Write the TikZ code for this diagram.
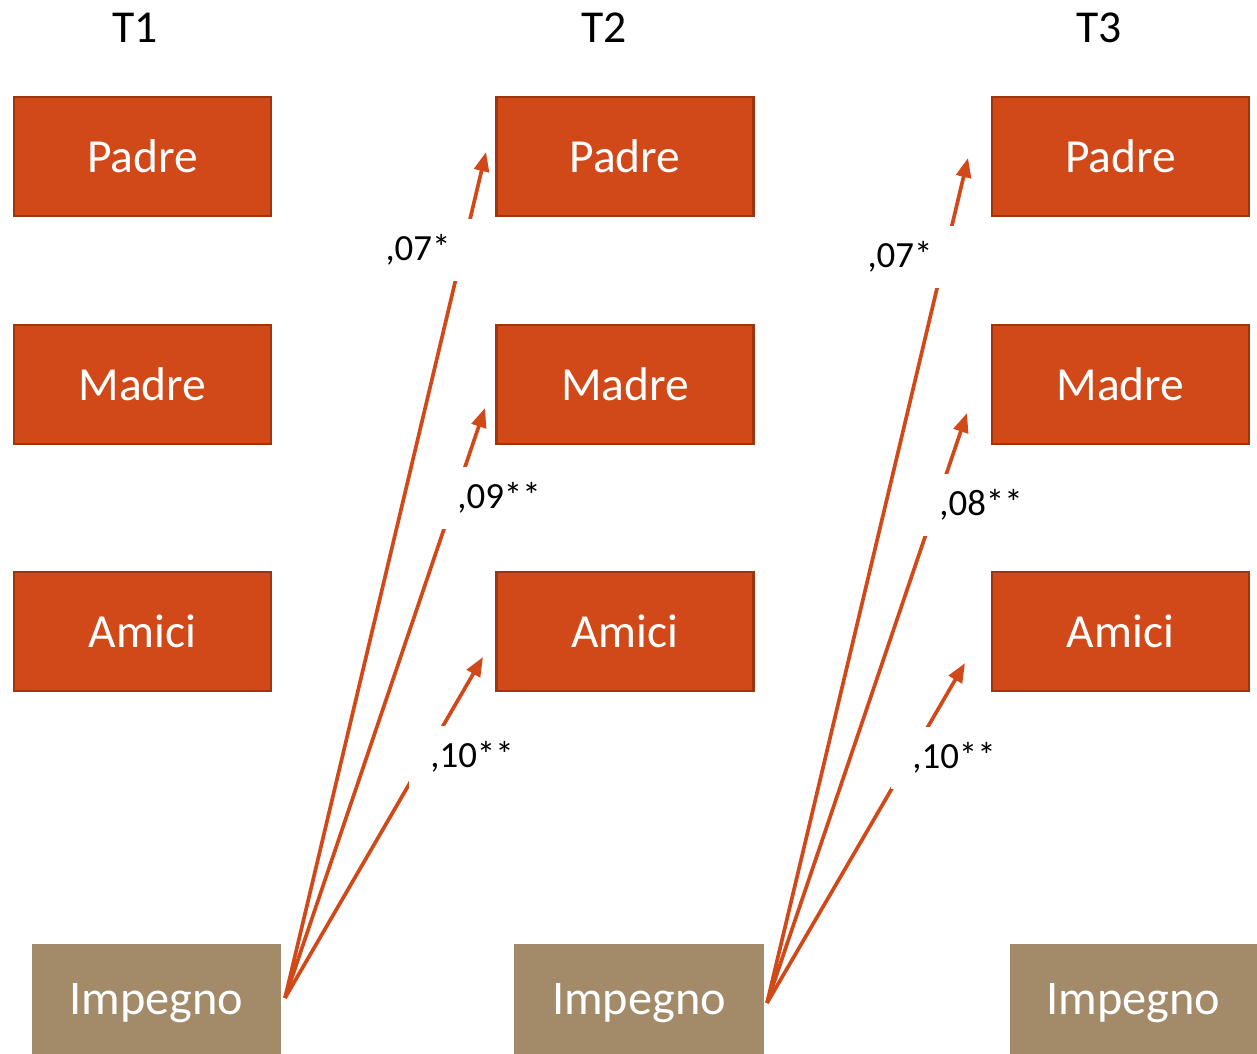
\documentclass[tikz,border=0pt]{standalone}
\usepackage{fontspec}
\setmainfont{Carlito}
\usetikzlibrary{arrows.meta}
\definecolor{boxfill}{RGB}{209,73,24}
\definecolor{boxline}{RGB}{160,52,14}
\definecolor{impfill}{RGB}{163,139,106}
\begin{document}
\begin{tikzpicture}[x=0.02cm,y=-0.02cm,
  varbox/.style={draw=boxline, line width=1.3pt, fill=boxfill, text=white,
    minimum width=5.14cm, minimum height=2.38cm, inner sep=0pt,
    font=\fontsize{27pt}{31pt}\selectfont},
  impbox/.style={fill=impfill, text=white, minimum height=2.2cm, inner sep=0pt,
    text depth=0pt, font=\fontsize{27.5pt}{31pt}\selectfont},
  title/.style={font=\fontsize{26pt}{30pt}\selectfont},
  coef/.style={fill=white, inner xsep=12pt, inner ysep=9pt,
    font=\fontsize{21pt}{25pt}\selectfont},
  path/.style={draw=boxfill, line width=2.1pt, -{Triangle[length=11pt,width=8.5pt]}}]
\useasboundingbox (0,0) rectangle (1257,1054);
% titles
\node[title] (t1) at (135,28) {T1};
\node[title] (t2) at (604,28) {T2};
\node[title] (t3) at (1099,28) {T3};
% T1
\node[varbox] (p1) at (142.5,156.5) {Padre};
\node[varbox] (m1) at (142.5,384.5) {Madre};
\node[varbox] (a1) at (142.5,631.5) {Amici};
\node[impbox, minimum width=4.98cm] (i1) at (156.5,999) {Impegno};
% T2
\node[varbox] (p2) at (625,156.5) {Padre};
\node[varbox] (m2) at (625,384.5) {Madre};
\node[varbox] (a2) at (625,631.5) {Amici};
\node[impbox, minimum width=5.0cm] (i2) at (639,999) {Impegno};
% T3
\node[varbox] (p3) at (1120.5,156.5) {Padre};
\node[varbox] (m3) at (1120.5,384.5) {Madre};
\node[varbox] (a3) at (1120.5,631.5) {Amici};
\node[impbox, minimum width=4.94cm] (i3) at (1133.5,999) {Impegno};
% arrow ends
\coordinate (s1) at (285,998);
\coordinate (s2) at (767,1003);
\coordinate (e1p) at (486,152);
\coordinate (e1m) at (485,408);
\coordinate (e1a) at (483,657);
\coordinate (e2p) at (968,158);
\coordinate (e2m) at (967,413);
\coordinate (e2a) at (965,663);
\draw[path] (s1) -- (e1p);
\draw[path] (s1) -- (e1m);
\draw[path] (s1) -- (e1a);
\draw[path] (s2) -- (e2p);
\draw[path] (s2) -- (e2m);
\draw[path] (s2) -- (e2a);
% coefficients
\node[coef] (l1) at (418,250) {,07*};
\node[coef] (l2) at (499,498) {,09**};
\node[coef] (l3) at (472,757) {,10**};
\node[coef] (l4) at (900,257) {,07*};
\node[coef] (l5) at (981,505) {,08**};
\node[coef] (l6) at (954,758) {,10**};
\end{tikzpicture}
\end{document}
